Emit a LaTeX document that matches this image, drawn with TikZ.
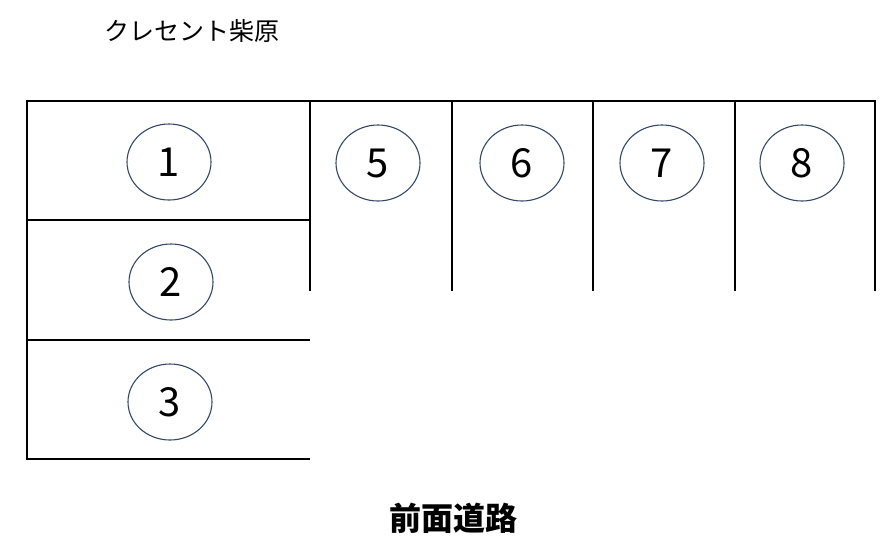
\documentclass[tikz,border=0pt]{standalone}
\usepackage{fontspec}
\usetikzlibrary{shapes.geometric}
\setmainfont{Noto Sans CJK JP}
\definecolor{ringcol}{RGB}{52,72,102}
\begin{document}
\begin{tikzpicture}[x=1pt,y=-1pt,
  wall/.style={line width=2.6pt, line cap=butt},
  slot/.style={draw=ringcol, line width=1.1pt, ellipse, minimum width=84pt, minimum height=76pt, inner sep=0pt, font=\fontsize{40}{40}\selectfont},
]
\useasboundingbox (0,0) rectangle (891,547);
% frame
\coordinate (tl) at (27,101);
\coordinate (tr) at (876,101);
\draw[wall, line join=miter] (tr) -- (tl) -- (27,459) -- (310,459);
\draw[wall] (27,220) -- (310,220);
\draw[wall] (27,340) -- (310,340);
\draw[wall] (310,101) -- (310,291);
\draw[wall] (452,101) -- (452,291);
\draw[wall] (593,101) -- (593,291);
\draw[wall] (735,101) -- (735,291);
\draw[wall] (875,101) -- (875,291);
% slots
\node[slot] (s1) at (169,162) {1};
\node[slot] (s2) at (171,282) {2};
\node[slot] (s3) at (170,402) {3};
\node[slot] (s5) at (378,163) {5};
\node[slot] (s6) at (522,163) {6};
\node[slot] (s7) at (662,163) {7};
\node[slot] (s8) at (802,163) {8};
% texts
\node[anchor=west, font=\fontsize{25}{25}\selectfont, inner sep=0pt] (title) at (104,31) {クレセント柴原};
\node[font=\fontsize{32}{32}\selectfont\bfseries, inner sep=0pt] (road) at (453,518) {前面道路};
\end{tikzpicture}
\end{document}
